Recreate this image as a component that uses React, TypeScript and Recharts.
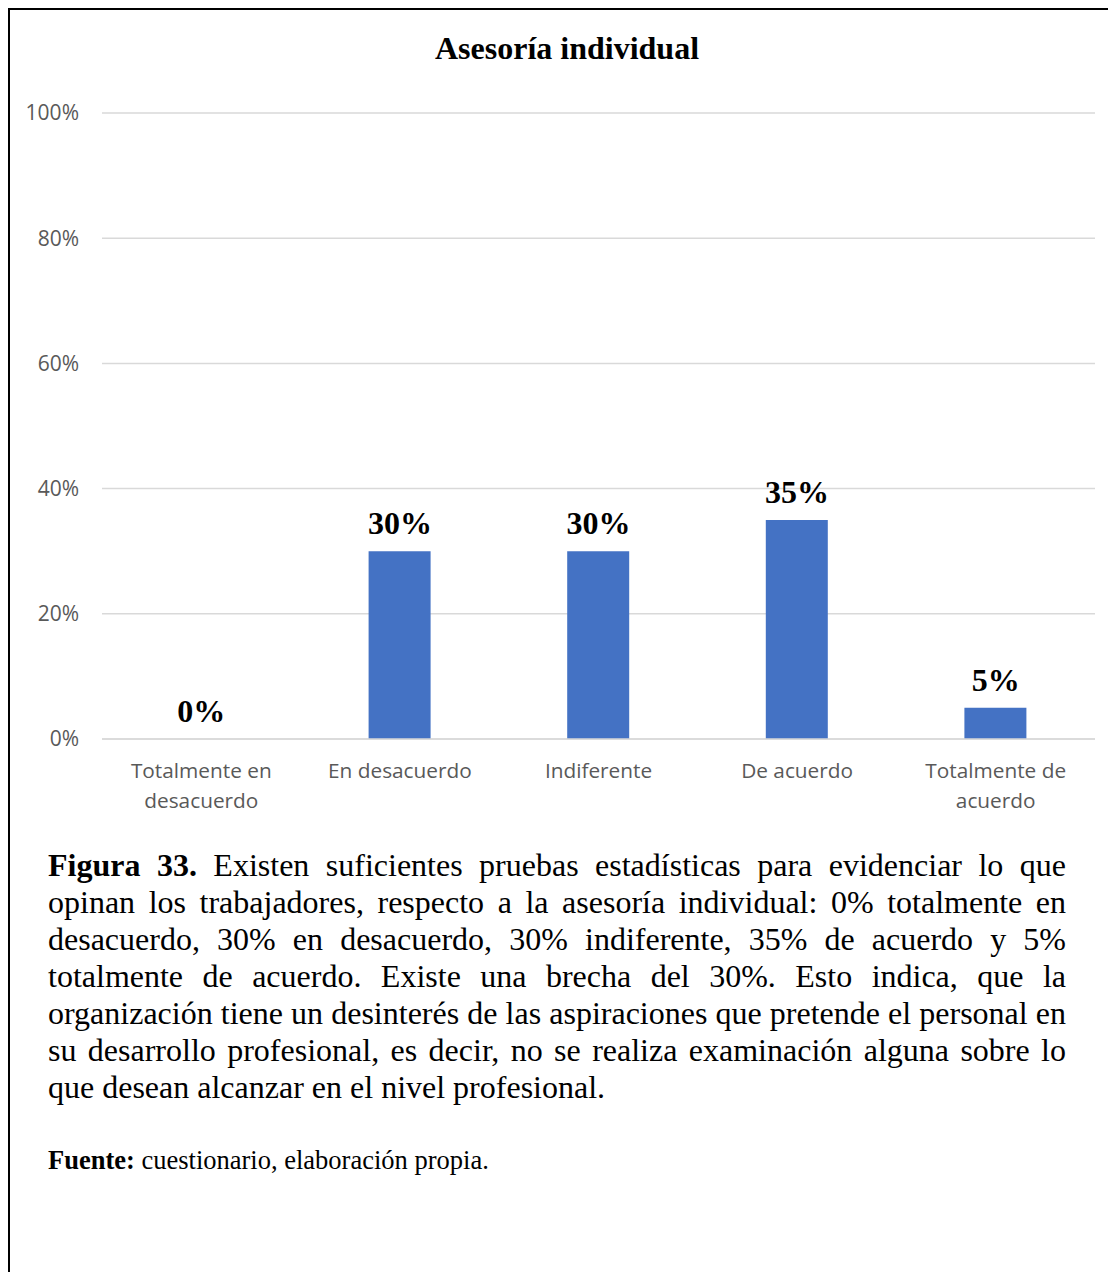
import { ComposedChart, Bar, Line, XAxis, YAxis, CartesianGrid, LabelList } from "recharts";

const categories = [
  "Totalmente en desacuerdo",
  "En desacuerdo",
  "Indiferente",
  "De acuerdo",
  "Totalmente de acuerdo",
];
const percentages = [0, 30, 30, 35, 5];
const yTicks = [0, 20, 40, 60, 80, 100];

const data = categories.map((category, i) => ({ category, value: percentages[i] }));

const SERIF = '"Liberation Serif", "Times New Roman", serif';
const SANS = '"Open Sans", "Noto Sans", sans-serif';

// wrap category name into lines of at most 14 chars
function wrap(label: string) {
  const lines: string[] = [];
  let cur = "";
  for (const w of label.split(" ")) {
    if (cur && (cur + " " + w).length > 14) {
      lines.push(cur);
      cur = w;
    } else {
      cur = cur ? cur + " " + w : w;
    }
  }
  if (cur) lines.push(cur);
  return lines;
}

function CategoryTick(props: any) {
  const { x, y, payload } = props;
  const lines = wrap(payload.value);
  return (
    <text x={x} y={y} textAnchor="middle" fill="#595959" fontSize={20.8} fontFamily={SANS}>
      {lines.map((line, i) => (
        <tspan key={i} x={x} y={y + 39 + i * 30}>
          {line}
        </tspan>
      ))}
    </text>
  );
}

export default function App() {
  return (
    <div
      style={{
        position: "relative",
        width: 1108,
        height: 1264,
        borderLeft: "2px solid #000",
        borderTop: "2px solid #000",
        boxSizing: "border-box",
        background: "#fff",
      }}
    >
      <div
        style={{
          position: "absolute",
          left: 0,
          top: 20,
          width: 1114,
          textAlign: "center",
          fontFamily: SERIF,
          fontWeight: "bold",
          fontSize: 32,
          lineHeight: "37px",
        }}
      >
        Asesoría individual
      </div>

      <div style={{ position: "absolute", left: 0, top: 0 }}>
        <ComposedChart
          width={1100}
          height={830}
          data={data}
          margin={{ top: 103, right: 15, bottom: 21, left: 0 }}
        >
          <CartesianGrid vertical={false} stroke="#d9d9d9" strokeWidth={1.5} />
          <XAxis
            dataKey="category"
            height={80}
            tickLine={false}
            tickSize={0}
            tickMargin={0}
            axisLine={{ stroke: "#d9d9d9", strokeWidth: 1.5 }}
            tick={<CategoryTick />}
            interval={0}
          />
          <YAxis
            width={92}
            domain={[0, 100]}
            ticks={yTicks}
            axisLine={false}
            tickLine={false}
            tickSize={0}
            tickMargin={23}
            tickFormatter={(v) => `${v}%`}
            tick={{ fill: "#595959", fontSize: 21, fontFamily: SANS }}
          />
          <Bar dataKey="value" fill="#4472c4" barSize={62} isAnimationActive={false} />
          {/* invisible line only carries the value labels, so 0% gets one too */}
          <Line
            dataKey="value"
            stroke="none"
            dot={false}
            activeDot={false}
            legendType="none"
            isAnimationActive={false}
          >
            <LabelList
              dataKey="value"
              position="top"
              offset={17}
              formatter={(v: any) => `${v}%`}
              style={{ fill: "#000", fontSize: 32, fontWeight: "bold", fontFamily: SERIF }}
            />
          </Line>
        </ComposedChart>
      </div>

      <div
        style={{
          position: "absolute",
          left: 38,
          top: 837,
          width: 1018,
          fontFamily: SERIF,
          fontSize: 32,
          lineHeight: "37px",
          textAlign: "justify",
          color: "#000",
        }}
      >
        <b>Figura 33.</b> Existen suficientes pruebas estadísticas para evidenciar lo que opinan los
        trabajadores, respecto a la asesoría individual: 0% totalmente en desacuerdo, 30% en
        desacuerdo, 30% indiferente, 35% de acuerdo y 5% totalmente de acuerdo. Existe una brecha
        del 30%. Esto indica, que la organización tiene un desinterés de las aspiraciones que
        pretende el personal en su desarrollo profesional, es decir, no se realiza examinación
        alguna sobre lo que desean alcanzar en el nivel profesional.
      </div>

      <div
        style={{
          position: "absolute",
          left: 38,
          top: 1135,
          fontFamily: SERIF,
          fontSize: 26.5,
          lineHeight: "30px",
          color: "#000",
        }}
      >
        <b>Fuente:</b> cuestionario, elaboración propia.
      </div>
    </div>
  );
}
